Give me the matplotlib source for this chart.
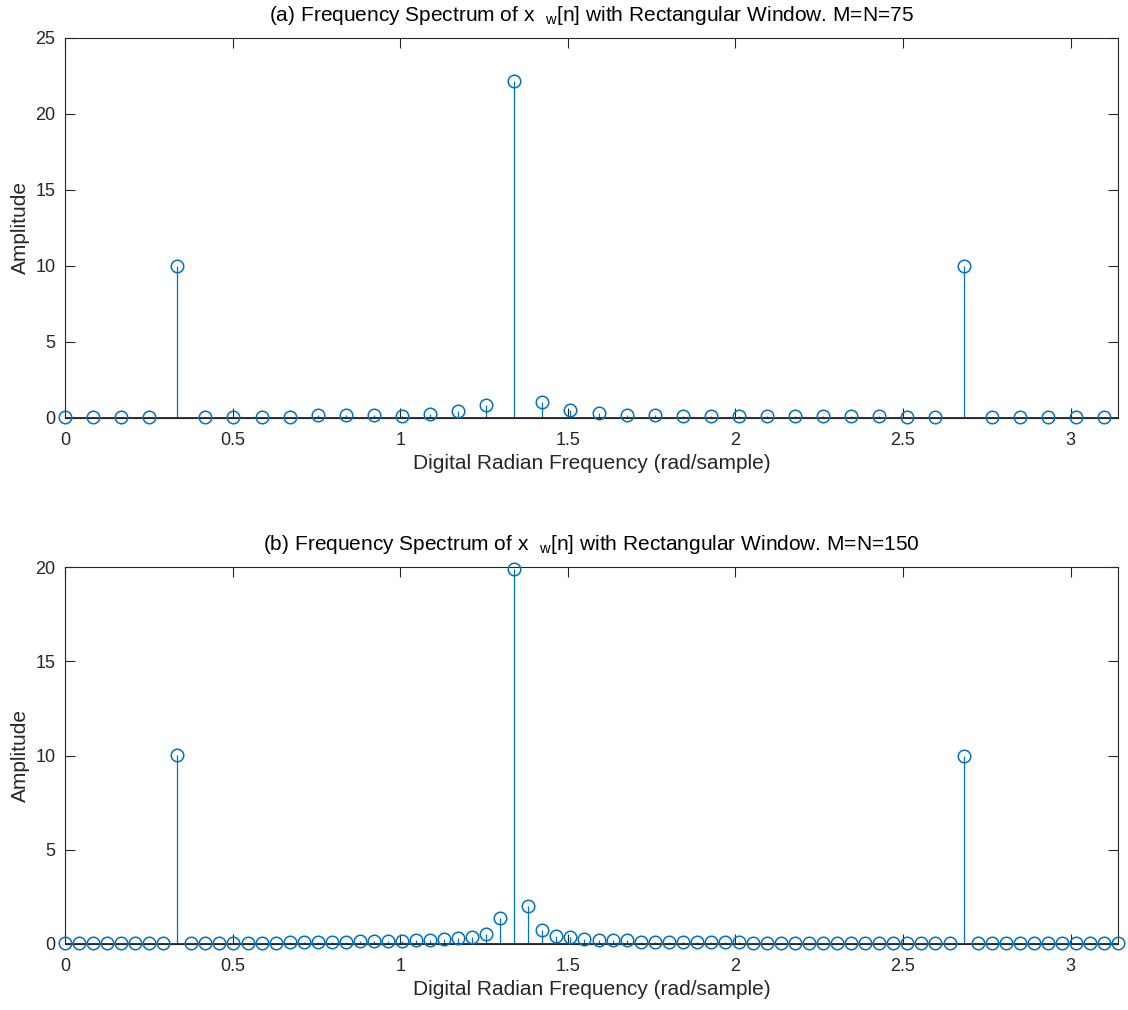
import numpy as np
import matplotlib
matplotlib.use("Agg")
import matplotlib.pyplot as plt

plt.rcParams['font.family'] = ['Liberation Sans', 'DejaVu Sans']
plt.rcParams['mathtext.fontset'] = 'custom'
plt.rcParams['mathtext.rm'] = 'Liberation Sans'
plt.rcParams['mathtext.it'] = 'Liberation Sans'

# ---- data ----
N_a = 75
amp_a = [0.05, 0.05, 0.05, 0.05, 10.0, 0.05, 0.05, 0.05, 0.06, 0.18,
         0.18, 0.18, 0.14, 0.27, 0.45, 0.84, 22.2, 1.02, 0.55, 0.32,
         0.23, 0.23, 0.12, 0.12, 0.12, 0.12, 0.11, 0.11, 0.11, 0.10,
         0.04, 0.04, 10.0, 0.04, 0.04, 0.04, 0.04, 0.04]

N_b = 150
amp_b = [0.05, 0.05, 0.05, 0.05, 0.05, 0.05, 0.05, 0.05, 10.05, 0.06,
         0.06, 0.06, 0.06, 0.07, 0.07, 0.07, 0.08, 0.11, 0.12, 0.12,
         0.13, 0.14, 0.15, 0.16, 0.18, 0.20, 0.22, 0.25, 0.30, 0.38,
         0.55, 1.40, 19.9, 2.0, 0.72, 0.45, 0.35, 0.28, 0.22, 0.22,
         0.20, 0.13, 0.12, 0.12, 0.11, 0.11, 0.11, 0.10, 0.10, 0.04,
         0.04, 0.04, 0.04, 0.04, 0.04, 0.04, 0.04, 0.04, 0.04, 0.04,
         0.04, 0.04, 0.04, 0.04, 9.97, 0.04, 0.04, 0.04, 0.04, 0.04,
         0.04, 0.04, 0.04, 0.04, 0.04, 0.04]

titles = [r"(a) Frequency Spectrum of x  $_{\mathrm{w}}$[n] with Rectangular Window. M=N=75",
          r"(b) Frequency Spectrum of x  $_{\mathrm{w}}$[n] with Rectangular Window. M=N=150"]
xlabel = "Digital Radian Frequency (rad/sample)"
ylabel = "Amplitude"
yticks_a = [0, 5, 10, 15, 20, 25]
yticks_b = [0, 5, 10, 15, 20]
xticks = [0, 0.5, 1, 1.5, 2, 2.5, 3]

blue = '#0072BD'
axc = '#262626'

fig = plt.figure(figsize=(11.28, 10.10), dpi=100)
W, H = 1128, 1010
def pos(l, t, r, b):
    return [l / W, 1 - b / H, (r - l) / W, (b - t) / H]

ax1 = fig.add_axes(pos(65, 38, 1118, 418))
ax2 = fig.add_axes(pos(65, 567, 1118, 944))

for ax, N, amp, title, yt in [(ax1, N_a, amp_a, titles[0], yticks_a),
                              (ax2, N_b, amp_b, titles[1], yticks_b)]:
    w = 2 * np.pi * np.arange(len(amp)) / N
    ml, sl, bl = ax.stem(w, amp, basefmt='-')
    plt.setp(sl, color=blue, linewidth=0.9)
    plt.setp(ml, color=blue, markerfacecolor='none', markeredgecolor=blue,
             markersize=9, markeredgewidth=1.1, clip_on=False, zorder=4)
    plt.setp(bl, color=axc, linewidth=1.3)
    bl.set_xdata([0, np.pi])
    ax.set_xlim(0, np.pi)
    ax.set_ylim(yt[0], yt[-1])
    ax.set_yticks(yt)
    ax.set_xticks(xticks)
    ax.set_xticklabels([f"{t:g}" for t in xticks])
    ax.tick_params(direction='in', top=True, right=True, length=7,
                   width=0.8, colors=axc, labelsize=13)
    ax.tick_params(axis='x', pad=10)
    ax.tick_params(axis='y', pad=7)
    for s in ax.spines.values():
        s.set_color(axc)
        s.set_linewidth(0.8)
    ax.set_title(title, fontsize=15, color='black', pad=12)
    ax.set_xlabel(xlabel, fontsize=15, color=axc, labelpad=4)
    ax.set_ylabel(ylabel, fontsize=15, color=axc, labelpad=4)

fig.savefig("out.png", dpi=100)
